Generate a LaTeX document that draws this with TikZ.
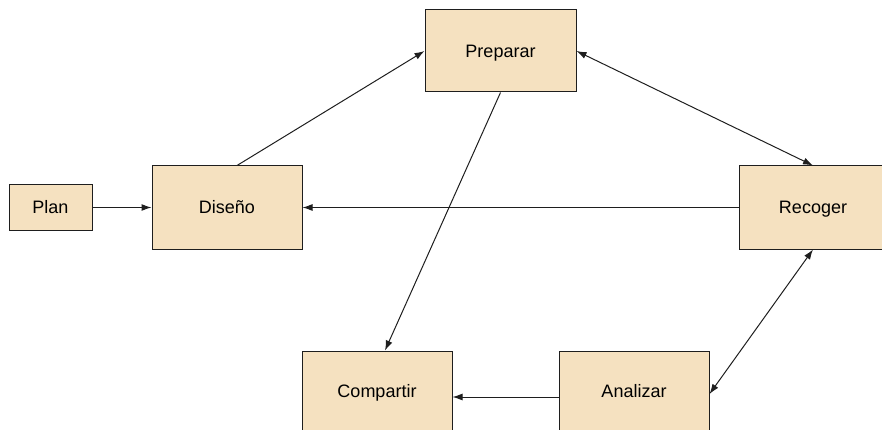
\documentclass[tikz,border=0pt]{standalone}
\usepackage{fontspec}
\setmainfont{Liberation Sans}
\usetikzlibrary{arrows.meta}
\definecolor{boxfill}{RGB}{245,225,192}
\definecolor{lineclr}{RGB}{30,30,30}
\tikzset{
  box/.style={draw=lineclr, line width=1pt, fill=boxfill, inner sep=0pt, text height=12.9pt, text depth=0pt, font=\fontsize{18}{20}\selectfont},
  conn/.style={draw=lineclr, line width=1pt, -{Latex[length=10pt,width=7pt]}},
  bconn/.style={draw=lineclr, line width=1pt, {Latex[length=10pt,width=7pt]}-{Latex[length=10pt,width=7pt]}}
}
\begin{document}
\begin{tikzpicture}[x=1pt,y=-1pt]
\useasboundingbox (0,0) rectangle (882,430);
\clip (0,0) rectangle (882,430);
\node[box, minimum width=83pt, minimum height=45pt] (plan) at (50.5,207.5) {Plan};
\node[box, minimum width=150pt, minimum height=83pt] (diseno) at (227,207.5) {Diseño};
\node[box, minimum width=151pt, minimum height=82pt] (preparar) at (500.5,51) {Preparar};
\node[box, minimum width=148pt, minimum height=83pt] (recoger) at (813,207.5) {Recoger};
\node[box, minimum width=150pt, minimum height=80pt] (compartir) at (377,391) {Compartir};
\node[box, minimum width=150pt, minimum height=80pt] (analizar) at (634,391) {Analizar};
\draw[conn] (plan.east) -- (diseno.west);
\draw[conn] (recoger.west) -- (diseno.east);
\draw[conn] ([xshift=10pt]diseno.north) -- (preparar.west);
\draw[bconn] (preparar.east) -- (recoger.north);
\draw[conn] (preparar.south) -- ([xshift=8pt]compartir.north);
\draw[bconn] (recoger.south) -- ([yshift=-3pt]analizar.east);
\draw[conn] ([yshift=-6pt]analizar.west) -- ([yshift=-6pt]compartir.east);
\end{tikzpicture}
\end{document}
